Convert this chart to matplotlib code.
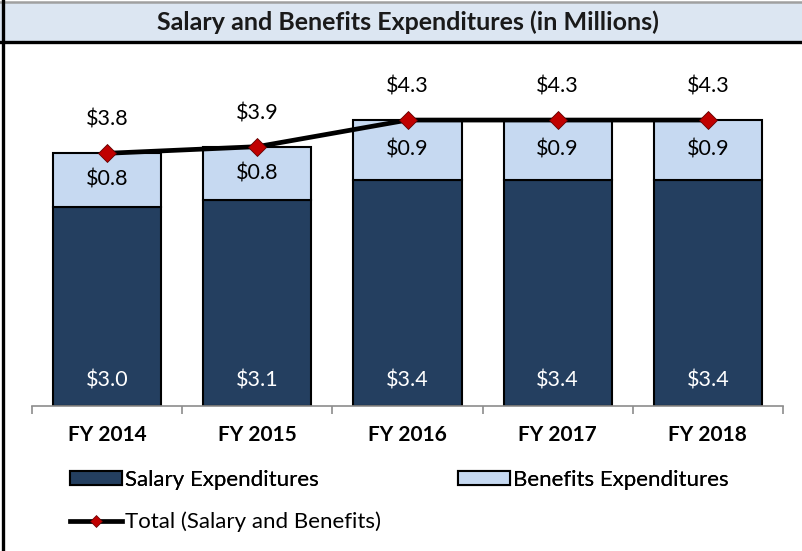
import matplotlib
matplotlib.use("Agg")
import matplotlib.pyplot as plt
from matplotlib.patches import Rectangle, Patch
from matplotlib.lines import Line2D
import numpy as np

categories = ["FY 2014", "FY 2015", "FY 2016", "FY 2017", "FY 2018"]
salary = [3.0, 3.1, 3.4, 3.4, 3.4]
benefits = [0.8, 0.8, 0.9, 0.9, 0.9]
total = [3.8, 3.9, 4.3, 4.3, 4.3]
title = "Salary and Benefits Expenditures (in Millions)"
legend_labels = ["Salary Expenditures", "Benefits Expenditures", "Total (Salary and Benefits)"]

FONT = "Lato"
plt.rcParams['font.family'] = [FONT, 'DejaVu Sans']

W, H = 802, 551
fig = plt.figure(figsize=(W / 100, H / 100), dpi=100)

def fx(px):
    return px / W

def fy(py):
    return 1 - py / H

# frame decorations
fig.patches.append(Rectangle((0, fy(41)), 1, fy(3) - fy(41), transform=fig.transFigure,
                             facecolor="#dce6f2", edgecolor="none", zorder=0))
fig.add_artist(Line2D([0, 1], [fy(42), fy(42)], transform=fig.transFigure, color="black", lw=2.4))
fig.add_artist(Line2D([0, 1], [fy(1.5), fy(1.5)], transform=fig.transFigure, color="#a0a0a0", lw=1.8))
fig.add_artist(Line2D([fx(3), fx(3)], [0, 1], transform=fig.transFigure, color="black", lw=2.4))
fig.text(fx(408), fy(22), title, ha="center", va="center", fontsize=18, fontweight="bold", color="#1a1a1a")

# axes
ymax = 5.0
left, right, base = 32, 783, 406
ppu = 66.5
ax = fig.add_axes([fx(left), 1 - base / H, fx(right - left), ymax * ppu / H])
ax.set_xlim(-0.5, 4.5)
ax.set_ylim(0, ymax)
x = np.arange(len(categories))
bw = 0.72
ax.bar(x, salary, width=bw, color="#243f60", edgecolor="black", linewidth=1.5, zorder=2)
ax.bar(x, benefits, bottom=salary, width=bw, color="#c6d9f1", edgecolor="black", linewidth=1.5, zorder=2)
ax.plot(x, total, color="black", lw=3.4, marker="D", markersize=9.5, markerfacecolor="#c00000",
        markeredgecolor="#600000", markeredgewidth=0.6, zorder=4)

vfs = 15.5
for i in range(len(categories)):
    ax.text(x[i], 0.38, f"${salary[i]:.1f}", ha="center", va="center", color="white", fontsize=vfs)
    ax.text(x[i], salary[i] + benefits[i] / 2, f"${benefits[i]:.1f}", ha="center", va="center",
            color="black", fontsize=vfs)
    ax.annotate(f"${total[i]:.1f}", (x[i], total[i]), xytext=(0, 24), textcoords="offset points",
                ha="center", va="center", fontsize=vfs, color="black")

for s in ["left", "right", "top"]:
    ax.spines[s].set_visible(False)
ax.spines["bottom"].set_color("#8c8c8c")
ax.spines["bottom"].set_linewidth(1.2)
ax.set_yticks([])
ax.set_xticks(x)
ax.set_xticklabels(categories, fontsize=15, fontweight="bold")
ax.tick_params(axis="x", which="major", length=0, pad=14)
ax.set_xticks(np.arange(-0.5, 5, 1), minor=True)
ax.tick_params(axis="x", which="minor", length=5.5, color="#8c8c8c", width=1.2)
ax.patch.set_alpha(0)

# legends
fs = 16
fpx = fs * 100 / 72
common = dict(frameon=False, borderpad=0, borderaxespad=0, handlelength=52 / fpx,
              handletextpad=3 / fpx, fontsize=fs, loc="center left")
h_sal = Patch(facecolor="#243f60", edgecolor="black", linewidth=1.5)
h_ben = Patch(facecolor="#c6d9f1", edgecolor="black", linewidth=1.5)
h_tot = Line2D([], [], color="black", lw=3.4, marker="D", markersize=6, markerfacecolor="#c00000",
               markeredgecolor="#600000", markeredgewidth=0.5)
fig.add_artist(fig.legend([h_sal], [legend_labels[0]], bbox_to_anchor=(fx(70), fy(480)), handleheight=14 / fpx, **common))
fig.add_artist(fig.legend([h_ben], [legend_labels[1]], bbox_to_anchor=(fx(458), fy(480)), handleheight=14 / fpx, **common))
fig.legend([h_tot], [legend_labels[2]], bbox_to_anchor=(fx(70), fy(522)), **common)

fig.savefig("out.png", dpi=100)
